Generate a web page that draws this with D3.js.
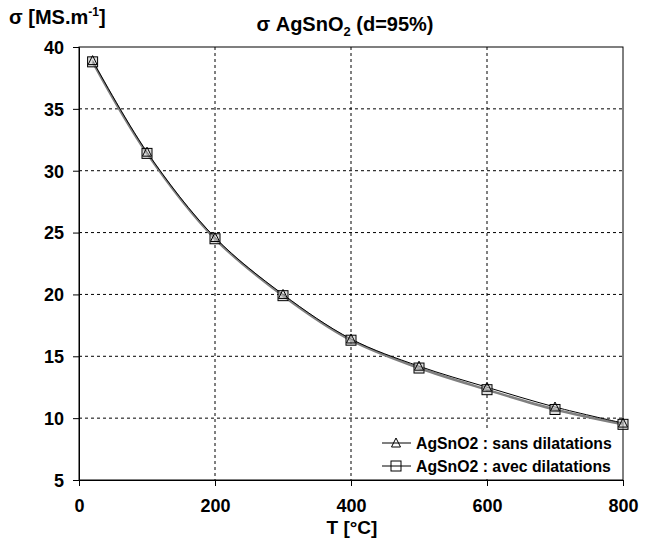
<!DOCTYPE html>
<html><head><meta charset="utf-8">
<script src="https://cdn.jsdelivr.net/npm/d3@7"></script>
<style>body{margin:0;background:#fff;}svg{display:block;font-family:"Liberation Sans",Arial,sans-serif;font-weight:bold;}</style>
</head><body><svg id="c" width="650" height="543"></svg>
<script>
const temps = [20, 100, 200, 300, 400, 500, 600, 700, 800];
const sansDil = [38.9, 31.5, 24.6, 20.0, 16.4, 14.2, 12.5, 10.9, 9.6];
const avecDil = [38.8, 31.4, 24.5, 19.9, 16.3, 14.05, 12.3, 10.7, 9.5];
const xTicks = [0, 200, 400, 600, 800];
const yTicks = [5, 10, 15, 20, 25, 30, 35, 40];
const seriesNames = ["AgSnO2 : sans dilatations", "AgSnO2 : avec dilatations"];

const svg = d3.select("#c");
const L = 79, R = 623, T = 47, B = 480;
const x = d3.scaleLinear().domain([0, 800]).range([L, R]);
const y = d3.scaleLinear().domain([5, 40]).range([B, T]);

// grid
const g = svg.append("g");
g.selectAll("line.gx").data(xTicks.slice(1, -1)).enter().append("line")
  .attr("x1", d => x(d)).attr("x2", d => x(d)).attr("y1", T).attr("y2", B)
  .attr("stroke", "#000").attr("stroke-width", 1).attr("stroke-dasharray", "3,3");
g.selectAll("line.gy").data(yTicks.slice(1, -1)).enter().append("line")
  .attr("x1", L).attr("x2", R).attr("y1", d => y(d)).attr("y2", d => y(d))
  .attr("stroke", "#000").attr("stroke-width", 1).attr("stroke-dasharray", "3,3");

// frame
svg.append("rect").attr("x", L).attr("y", T).attr("width", R - L).attr("height", B - T)
  .attr("fill", "none").attr("stroke", "#000").attr("stroke-width", 1);

// axes
const xAxis = svg.append("g").attr("transform", `translate(0,${B})`)
  .call(d3.axisBottom(x).tickValues(xTicks).tickSize(6).tickPadding(13));
const yAxis = svg.append("g").attr("transform", `translate(${L},0)`)
  .call(d3.axisLeft(y).tickValues(yTicks).tickSize(6).tickPadding(9));
[xAxis, yAxis].forEach(a => {
  a.select(".domain").attr("stroke", "#000");
  a.selectAll(".tick line").attr("stroke", "#000");
  a.selectAll("text").attr("font-size", 18).attr("font-weight", "bold")
    .attr("font-family", "Liberation Sans, Arial, sans-serif").attr("fill", "#000");
});
yAxis.selectAll("text").attr("dy", "0.35em");

// lines
const line = d3.line().x(d => x(d[0])).y(d => y(d[1])).curve(d3.curveCatmullRom.alpha(0.5));
const dA = temps.map((t, i) => [t, avecDil[i]]);
const dS = temps.map((t, i) => [t, sansDil[i]]);
svg.append("path").attr("d", line(dA)).attr("fill", "none").attr("stroke", "#808080").attr("stroke-width", 2.5);
svg.append("path").attr("d", line(dS)).attr("fill", "none").attr("stroke", "#000").attr("stroke-width", 1);

// markers
const sq = 10;
function square(sel, cx, cy) {
  sel.append("rect").attr("x", cx - sq / 2).attr("y", cy - sq / 2).attr("width", sq).attr("height", sq)
    .attr("fill", "#c8c8c8").attr("fill-opacity", 0.6).attr("stroke", "#000").attr("stroke-width", 1);
}
function tri(sel, cx, cy) {
  sel.append("path").attr("d", `M${cx},${cy - 5}L${cx + 4.5},${cy + 4}L${cx - 4.5},${cy + 4}Z`)
    .attr("fill", "none").attr("stroke", "#000").attr("stroke-width", 1);
}
const mk = svg.append("g");
dA.forEach(d => square(mk, x(d[0]), y(d[1])));
dS.forEach(d => tri(mk, x(d[0]), y(d[1])));

// legend
const lg = svg.append("g");
lg.append("rect").attr("x", 378).attr("y", 430).attr("width", 242).attr("height", 48).attr("fill", "#fff");
[0, 1].forEach(i => {
  const ly = 443 + i * 23;
  lg.append("line").attr("x1", 382).attr("x2", 411).attr("y1", ly).attr("y2", ly).attr("stroke", "#000");
  if (i === 0) tri(lg, 396, ly); else {
    lg.append("rect").attr("x", 391).attr("y", ly - 5).attr("width", 10).attr("height", 10)
      .attr("fill", "none").attr("stroke", "#000");
  }
  lg.append("text").attr("x", 416).attr("y", ly).attr("dy", "0.35em").attr("font-size", 15.8)
    .attr("fill", "#000").text(seriesNames[i]);
});

// titles
const title = svg.append("text").attr("x", 345).attr("y", 31).attr("text-anchor", "middle").attr("font-size", 20).attr("fill", "#000");
title.append("tspan").text("σ AgSnO");
title.append("tspan").attr("font-size", 13).attr("dy", 5).text("2");
title.append("tspan").attr("dy", -5).text(" (d=95%)");

const yl = svg.append("text").attr("x", 9).attr("y", 24).attr("font-size", 20).attr("fill", "#000");
yl.append("tspan").text("σ [MS.m");
yl.append("tspan").attr("font-size", 12).attr("dy", -8).text("-1");
yl.append("tspan").attr("dy", 8).text("]");

svg.append("text").attr("x", 352).attr("y", 534).attr("text-anchor", "middle").attr("font-size", 19).attr("fill", "#000").text("T [°C]");
</script></body></html>
